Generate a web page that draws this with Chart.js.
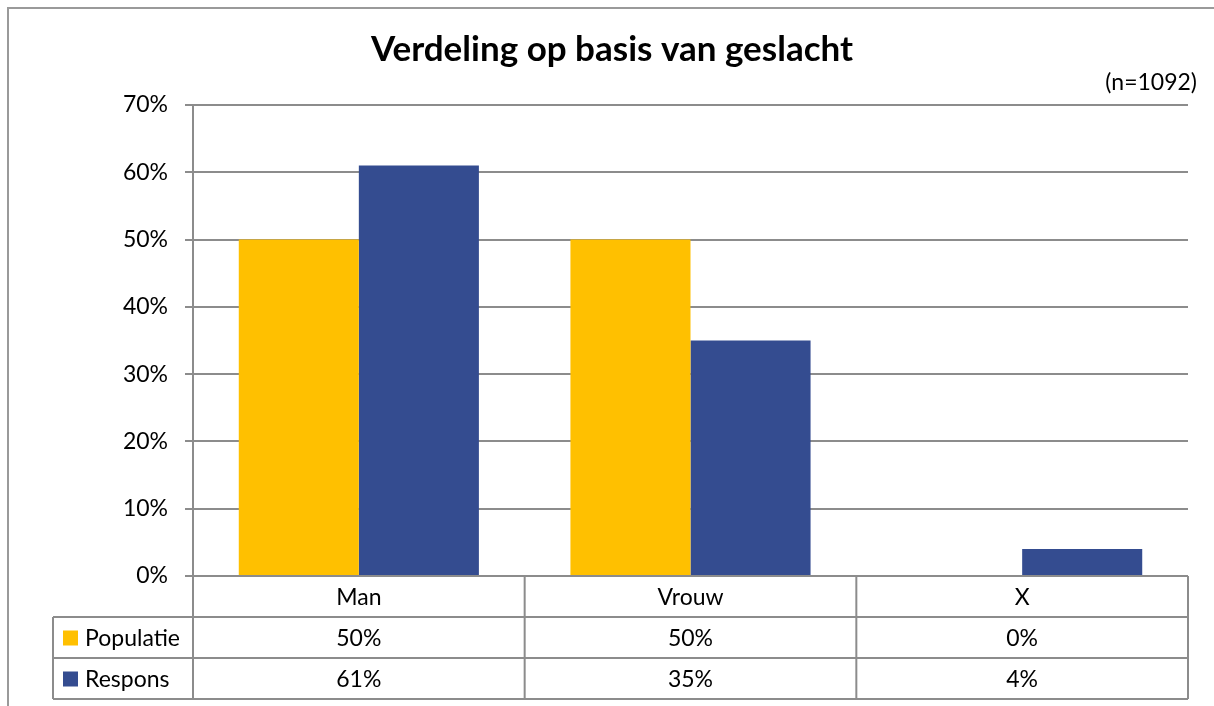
<!DOCTYPE html>
<html>
<head>
<meta charset="utf-8">
<script src="https://cdn.jsdelivr.net/npm/chart.js@4"></script>
<style>
  html, body { margin: 0; padding: 0; background: #fff; }
  #wrap { width: 1214px; height: 706px; }
</style>
</head>
<body>
<div id="wrap"><canvas id="genderChart" width="1214" height="706"></canvas></div>
<script>
// Data
var categories = ['Man', 'Vrouw', 'X'];
var populatie = [50, 50, 0];
var respons = [61, 35, 4];
var seriesNames = ['Populatie', 'Respons'];
var seriesColors = ['#FFC000', '#344C90'];
var yTicks = [0, 10, 20, 30, 40, 50, 60, 70];

var FONT = 'Lato, "Liberation Sans", sans-serif';
var GRID = '#8c8c8c';
var TXT = 23;

// Frame, title and the data table under the plot
var decorations = {
    id: 'decorations',
    beforeDraw: function (chart) {
        var c = chart.ctx;
        c.save();
        c.strokeStyle = '#9a9a9a';
        c.lineWidth = 2;
        c.beginPath();
        c.moveTo(8, 706);
        c.lineTo(8, 8);
        c.lineTo(1214, 8);
        c.stroke();
        c.restore();
    },
    afterDraw: function (chart) {
        var c = chart.ctx;
        var area = chart.chartArea;
        var x = chart.scales.x;
        var rowH = 41;
        var top = area.bottom;
        var leftCol = 53;
        c.save();

        // title
        c.fillStyle = '#000';
        c.font = 'bold 35px ' + FONT;
        c.textAlign = 'center';
        c.textBaseline = 'middle';
        c.fillText('Verdeling op basis van geslacht', 612, 50);
        c.font = TXT + 'px ' + FONT;
        c.textAlign = 'right';
        c.fillText('(n=1092)', 1197, 83);

        // table lines
        c.strokeStyle = GRID;
        c.lineWidth = 2;
        c.beginPath();
        for (var r = 0; r <= 3; r++) {
            var yy = top + r * rowH;
            c.moveTo(r === 0 ? area.left : leftCol, yy);
            c.lineTo(area.right, yy);
        }
        // column separators
        var step = (area.right - area.left) / categories.length;
        for (var k = 0; k <= categories.length; k++) {
            var xx = area.left + k * step;
            c.moveTo(xx, top);
            c.lineTo(xx, top + 3 * rowH);
        }
        c.moveTo(leftCol, top + rowH);
        c.lineTo(leftCol, top + 3 * rowH);
        c.stroke();

        // cell text
        c.fillStyle = '#000';
        c.font = TXT + 'px ' + FONT;
        c.textAlign = 'center';
        var rows = [populatie, respons];
        categories.forEach(function (cat, i) {
            var cx = x.getPixelForValue(i);
            c.fillText(cat, cx, top + rowH / 2 + 1);
            rows.forEach(function (vals, j) {
                c.fillText(vals[i] + '%', cx, top + (j + 1.5) * rowH + 1);
            });
        });

        // legend keys in the first column
        c.textAlign = 'left';
        seriesNames.forEach(function (name, j) {
            var cy = top + (j + 1.5) * rowH;
            c.fillStyle = seriesColors[j];
            c.fillRect(63, cy - 7, 15, 15);
            c.fillStyle = '#000';
            c.fillText(name, 85, cy + 1);
        });
        c.restore();
    }
};

var ctx = document.getElementById('genderChart').getContext('2d');
var genderChart = new Chart(ctx, {
    type: 'bar',
    data: {
        labels: categories,
        datasets: [{
            label: seriesNames[0],
            data: populatie,
            backgroundColor: seriesColors[0],
            categoryPercentage: 0.724,
            barPercentage: 1
        }, {
            label: seriesNames[1],
            data: respons,
            backgroundColor: seriesColors[1],
            categoryPercentage: 0.724,
            barPercentage: 1
        }]
    },
    options: {
        responsive: false,
        animation: false,
        layout: { padding: { left: 0, right: 26, top: 105, bottom: 130 } },
        plugins: {
            legend: { display: false },
            title: { display: false },
            tooltip: { enabled: false }
        },
        scales: {
            x: { display: false },
            y: {
                min: 0,
                max: 70,
                afterFit: function (scale) { scale.width = 193; },
                afterBuildTicks: function (scale) {
                    scale.ticks = yTicks.map(function (v) { return { value: v }; });
                },
                ticks: {
                    color: '#000',
                    padding: 17,
                    font: { family: FONT, size: TXT },
                    callback: function (v) { return v + '%'; }
                },
                grid: { color: GRID, lineWidth: 2, tickLength: 8 },
                border: { color: GRID, width: 2 }
            }
        }
    },
    plugins: [decorations]
});
</script>
</body>
</html>
